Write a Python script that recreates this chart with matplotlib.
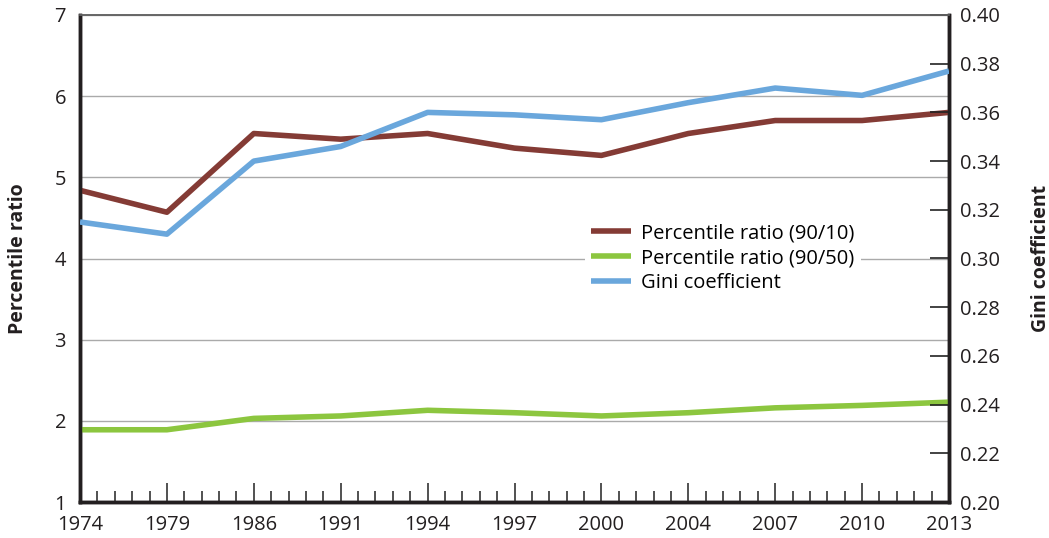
import matplotlib
matplotlib.use("Agg")
import matplotlib.pyplot as plt
from matplotlib.ticker import AutoMinorLocator

plt.rcParams["font.family"] = ["Open Sans", "DejaVu Sans"]

years = ["1974", "1979", "1986", "1991", "1994", "1997", "2000", "2004", "2007", "2010", "2013"]
ratio_90_10 = [4.84, 4.57, 5.54, 5.47, 5.54, 5.36, 5.27, 5.54, 5.70, 5.70, 5.80]
ratio_90_50 = [1.89, 1.89, 2.03, 2.06, 2.13, 2.10, 2.06, 2.10, 2.16, 2.19, 2.23]
gini = [0.315, 0.310, 0.340, 0.346, 0.360, 0.359, 0.357, 0.364, 0.370, 0.367, 0.377]

RED = "#843b35"
GREEN = "#8cc63f"
BLUE = "#6aa7dc"

fig = plt.figure(figsize=(10.49, 5.38), dpi=100)
ax = fig.add_axes([80 / 1049, 36 / 538, 869 / 1049, 487 / 538])
ax2 = ax.twinx()

x = list(range(len(years)))
l1, = ax.plot(x, ratio_90_10, color=RED, lw=4, solid_capstyle="butt", zorder=3)
l2, = ax.plot(x, ratio_90_50, color=GREEN, lw=4, solid_capstyle="butt", zorder=3)
l3, = ax2.plot(x, gini, color=BLUE, lw=4, solid_capstyle="butt", zorder=3)

ax.set_xlim(0, len(years) - 1)
ax.set_ylim(1, 7)
ax2.set_ylim(0.20, 0.40)

ax.set_xticks(x)
ax.set_xticklabels(years)
ax.xaxis.set_minor_locator(AutoMinorLocator(5))
ax.tick_params(axis="x", which="major", direction="in", length=14, width=1.2,
               color="#333333", labelsize=14.5, pad=9, labelcolor="#231f20")
ax.tick_params(axis="x", which="minor", direction="in", length=8, width=1.2, color="#333333")

ax.set_yticks(range(1, 8))
ax.tick_params(axis="y", length=0, labelsize=14.5, pad=10, labelcolor="#231f20")
ax.grid(axis="y", color="#aaaaaa", lw=1)
ax.set_axisbelow(True)

ax2.set_yticks([0.20 + 0.02 * i for i in range(11)])
ax2.set_yticklabels([f"{0.20 + 0.02 * i:.2f}" for i in range(11)])
ax2.tick_params(axis="y", direction="in", length=14, width=1.2, color="#222222",
                labelsize=14.5, pad=8, labelcolor="#231f20")

for a in (ax, ax2):
    for side in ("left", "bottom", "right"):
        a.spines[side].set_linewidth(2.5)
        a.spines[side].set_color("#231f20")
    a.spines["top"].set_linewidth(1.2)
    a.spines["top"].set_color("#666666")

ax.set_ylabel("Percentile ratio", fontsize=14, fontweight="bold", color="#231f20")
ax2.set_ylabel("Gini coefficient", fontsize=14, fontweight="bold", color="#231f20")
ax.yaxis.set_label_coords(-52 / 869, 0.5)
ax2.yaxis.set_label_coords(1 + 82 / 869, 0.5)

leg = ax2.legend([l1, l2, l3],
                 ["Percentile ratio (90/10)", "Percentile ratio (90/50)", "Gini coefficient"],
                 loc="upper left", bbox_to_anchor=(495 / 869, 1 - 192 / 487),
                 frameon=True, framealpha=1, edgecolor="none", fontsize=14.5,
                 handlelength=2.0, handletextpad=0.5, labelspacing=0.25, borderpad=0.3)
leg.get_frame().set_facecolor("white")

fig.savefig("out.png", dpi=100)
